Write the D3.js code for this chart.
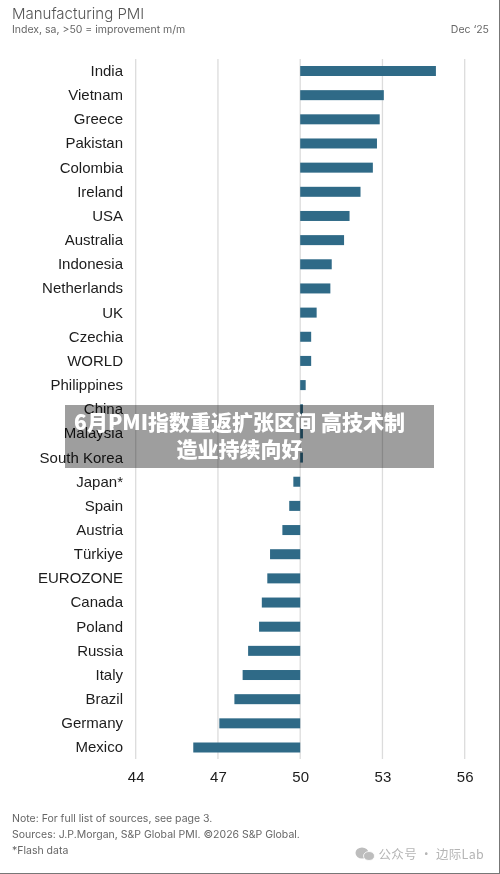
<!DOCTYPE html>
<html><head><meta charset="utf-8">
<script src="https://cdn.jsdelivr.net/npm/d3@7"></script>
<style>html,body{margin:0;padding:0;background:#fff;overflow:hidden}svg{display:block;filter:blur(0.4px)}</style>
</head><body><div id="c"></div>
<script>
const categories=["India","Vietnam","Greece","Pakistan","Colombia","Ireland","USA","Australia","Indonesia","Netherlands","UK","Czechia","WORLD","Philippines","China","Malaysia","South Korea","Japan*","Spain","Austria","Türkiye","EUROZONE","Canada","Poland","Russia","Italy","Brazil","Germany","Mexico"];
const values=[54.95,53.05,52.9,52.8,52.65,52.2,51.8,51.6,51.15,51.1,50.6,50.4,50.4,50.2,50.1,50.1,50.1,49.75,49.6,49.35,48.9,48.8,48.6,48.5,48.1,47.9,47.6,47.05,46.1];
const tickValues=[44,47,50,53,56];
const titleText="Manufacturing PMI";
const subtitleText="Index, sa, >50 = improvement m/m";
const dateText="Dec ‘25";
const notes=["Note: For full list of sources, see page 3.","Sources: J.P.Morgan, S&P Global PMI. ©2026 S&P Global.","*Flash data"];
const bannerLines=["6月PMI指数重返扩张区间 高技术制","造业持续向好"];
const watermarkText="公众号 · 边际Lab";

const W=500,H=874;
const sans="Inter, 'Open Sans', sans-serif", label="'Liberation Sans', Arial, sans-serif";
const svg=d3.select("#c").append("svg").attr("width",W).attr("height",H);
svg.append("rect").attr("width",W).attr("height",H).attr("fill","#fff");

const x=d3.scaleLinear().domain([44,56]).range([135.7,464.7]);
const y=d3.scalePoint().domain(categories).range([71,747.5]);
const barH=10;

svg.append("g").selectAll("line").data(tickValues).join("line")
  .attr("x1",d=>x(d)).attr("x2",d=>x(d)).attr("y1",59).attr("y2",759)
  .attr("stroke","#dcdcdc").attr("stroke-width",1.3);

svg.append("g").selectAll("rect").data(categories).join("rect")
  .attr("x",(d,i)=>Math.min(x(values[i]),x(50)))
  .attr("width",(d,i)=>Math.abs(x(values[i])-x(50)))
  .attr("y",d=>y(d)-barH/2).attr("height",barH).attr("fill","#2f6a87");

svg.append("g").selectAll("text").data(categories).join("text")
  .attr("x",123).attr("y",d=>y(d)-0.3).attr("dy","0.35em").attr("text-anchor","end")
  .attr("font-family",label).attr("font-size",15).attr("fill","#1c1c1c").text(d=>d);

const axis=d3.axisBottom(x).tickValues(tickValues).tickSize(0).tickPadding(0).tickFormat(d3.format("d"));
const ag=svg.append("g").attr("transform","translate(0,771)").call(axis);
ag.select(".domain").remove();
ag.selectAll("text").attr("font-family",label).attr("font-size",15).attr("fill","#1c1c1c");

svg.append("text").attr("x",12).attr("y",19).attr("font-family",sans).attr("font-size",15).attr("fill","#555").attr("font-weight",300).text(titleText);
svg.append("text").attr("x",12).attr("y",33).attr("font-family",sans).attr("font-size",10.5).attr("fill","#666").text(subtitleText);
svg.append("text").attr("x",489).attr("y",33).attr("text-anchor","end").attr("font-family",sans).attr("font-size",10.5).attr("fill","#666").text(dateText);

svg.append("g").selectAll("text").data(notes).join("text")
  .attr("x",12).attr("y",(d,i)=>822+i*16).attr("font-family",sans).attr("font-size",10.5).attr("fill","#666").text(d=>d);

svg.append("text").attr("x",484).attr("y",859).attr("text-anchor","end").attr("font-family","'Noto Sans CJK SC'").attr("font-size",12.5).attr("fill","#b5b5b5").attr("letter-spacing",0.3).text(watermarkText);
const wm=svg.append("g").attr("fill","#bdbdbd");
wm.append("ellipse").attr("cx",362).attr("cy",853).attr("rx",6.5).attr("ry",5.5);
wm.append("ellipse").attr("cx",369).attr("cy",856).attr("rx",5.5).attr("ry",4.5).attr("stroke","#fff").attr("stroke-width",0.8);

svg.append("rect").attr("x",65).attr("y",405).attr("width",369).attr("height",63).attr("fill","#000").attr("fill-opacity",0.38);
svg.append("g").selectAll("text").data(bannerLines).join("text")
  .attr("x",239.5).attr("y",(d,i)=>429.5+i*27).attr("text-anchor","middle")
  .attr("font-family","'Noto Sans CJK SC'").attr("font-weight",900).attr("font-size",21).attr("fill","#fff").text(d=>d);

svg.append("line").attr("x1",0).attr("x2",W).attr("y1",873.5).attr("y2",873.5).attr("stroke","#777");
svg.append("line").attr("x1",499.5).attr("x2",499.5).attr("y1",0).attr("y2",H).attr("stroke","#777");
</script></body></html>
